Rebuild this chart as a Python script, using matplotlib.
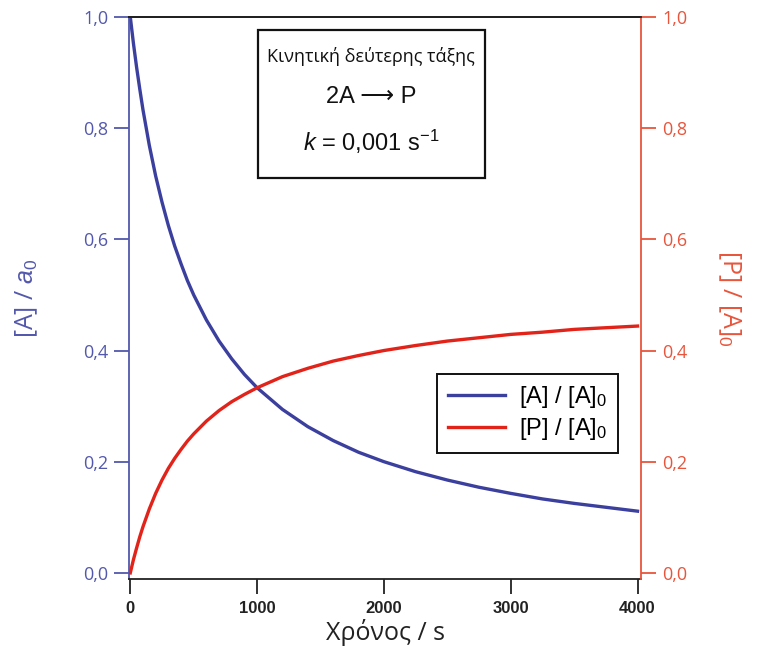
import matplotlib
matplotlib.use("Agg")
import matplotlib.pyplot as plt
from matplotlib.patches import Rectangle

# second-order kinetics, 2A -> P, k = 0.001 s^-1
time_s = [0, 25, 50, 75, 100, 150, 200, 250, 300, 350, 400, 450, 500, 600, 700,
          800, 900, 1000, 1200, 1400, 1600, 1800, 2000, 2250, 2500, 2750, 3000,
          3250, 3500, 3750, 4000]
a_frac = [1.000, 0.952, 0.909, 0.870, 0.833, 0.769, 0.714, 0.667, 0.625, 0.588,
          0.556, 0.526, 0.500, 0.455, 0.417, 0.385, 0.357, 0.333, 0.294, 0.263,
          0.238, 0.217, 0.200, 0.182, 0.167, 0.154, 0.143, 0.133, 0.125, 0.118,
          0.111]
p_frac = [0.000, 0.024, 0.045, 0.065, 0.083, 0.115, 0.143, 0.167, 0.188, 0.206,
          0.222, 0.237, 0.250, 0.273, 0.292, 0.308, 0.321, 0.333, 0.353, 0.368,
          0.381, 0.391, 0.400, 0.409, 0.417, 0.423, 0.429, 0.433, 0.438, 0.441,
          0.444]

y_ticks = [0.0, 0.2, 0.4, 0.6, 0.8, 1.0]
y_labels = ["0,0", "0,2", "0,4", "0,6", "0,8", "1,0"]
x_ticks = [0, 1000, 2000, 3000, 4000]

blue = "#3b3f9e"
blue_ax = "#5358ad"
red = "#e2231a"
red_ax = "#e8553c"

plt.rcParams["mathtext.fontset"] = "custom"
plt.rcParams["mathtext.rm"] = "Liberation Sans"
plt.rcParams["mathtext.it"] = "Liberation Sans:italic"

fig = plt.figure(figsize=(7.59, 6.56), dpi=100)
ax = fig.add_axes([0.170, 0.1174, 0.675, 0.8567])
ax2 = ax.twinx()

la, = ax.plot(time_s, a_frac, color=blue, lw=2.4)
lp, = ax2.plot(time_s, p_frac, color=red, lw=2.4)

for a in (ax, ax2):
    a.set_xlim(-10, 4030)
    a.set_ylim(-0.011, 1.0)

ax.set_yticks(y_ticks)
ax.set_yticklabels(y_labels, family="Open Sans", fontsize=13, color=blue_ax)
ax.tick_params(axis="y", colors=blue_ax, length=11, width=1.3, pad=4)
ax2.set_yticks(y_ticks)
ax2.set_yticklabels(y_labels, family="Open Sans", fontsize=13, color=red_ax)
ax2.tick_params(axis="y", colors=red_ax, length=11, width=1.3, pad=4)

ax.set_xticks(x_ticks)
ax.set_xticklabels([str(v) for v in x_ticks], family="Liberation Sans",
                   fontsize=12, fontweight="bold", color="#222222")
ax.tick_params(axis="x", length=11, width=1.3, color="#222222", pad=5)

ax.spines["left"].set_color(blue_ax)
ax2.spines["left"].set_visible(False)
ax2.spines["right"].set_color(red_ax)
ax.spines["right"].set_visible(False)
for a in (ax, ax2):
    for s in a.spines.values():
        s.set_linewidth(1.3)
ax2.spines["top"].set_color("#222222")
ax2.spines["bottom"].set_visible(False)
ax.spines["bottom"].set_color("#222222")

ax.set_ylabel(r"[A] / $\mathit{a}_0$", family="Open Sans", fontsize=18,
              color=blue_ax, labelpad=31)
ax2.set_ylabel(r"[P] / [A]$_0$", family="Open Sans", fontsize=18,
               color=red_ax, rotation=270, labelpad=40)
ax.set_xlabel("Χρόνος / s", family="Open Sans", fontsize=18, color="#222222",
              labelpad=2)

# info box
ax2.add_patch(Rectangle((0.252, 0.7135), 0.443, 0.2635, transform=ax2.transAxes,
                        facecolor="white", edgecolor="#111111", lw=1.6,
                        zorder=5))
ax2.text(0.473, 0.929, "Κινητική δεύτερης τάξης", transform=ax2.transAxes,
         ha="center", va="center", family="Open Sans", fontsize=13,
         color="#111111", zorder=6)
ax2.text(0.473, 0.858, "2A ⟶ P", transform=ax2.transAxes,
         ha="center", va="center", family=["Liberation Sans", "DejaVu Sans"],
         fontsize=17, color="#111111", zorder=6)
ax2.text(0.473, 0.778, r"$\mathit{k}$ = 0,001 s$^{-1}$", transform=ax2.transAxes,
         ha="center", va="center", family="Liberation Sans", fontsize=17,
         color="#111111", zorder=6)

leg = ax2.legend([la, lp], [r"[A] / [A]$_0$", r"[P] / [A]$_0$"],
                 loc="upper left", bbox_to_anchor=(0.602, 0.365),
                 prop={"family": "Liberation Sans", "size": 17},
                 fancybox=False, framealpha=1, edgecolor="#111111",
                 handlelength=2.4, handletextpad=0.6, borderpad=0.45,
                 labelspacing=0.25, borderaxespad=0)
leg.get_frame().set_linewidth(1.4)

fig.savefig("out.png", dpi=100, facecolor="white")
